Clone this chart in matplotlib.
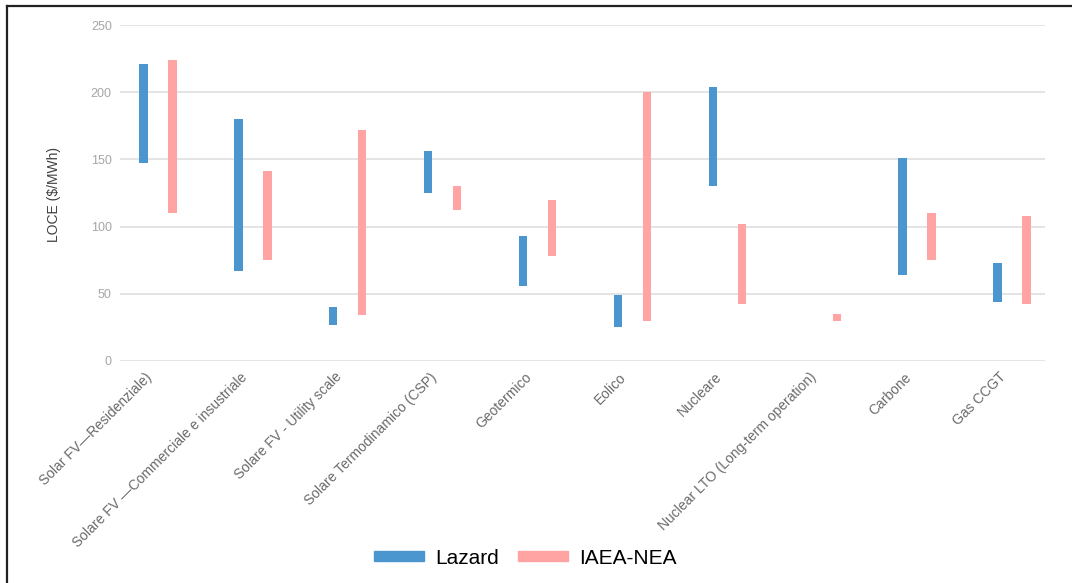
import matplotlib.pyplot as plt
from matplotlib.lines import Line2D
from matplotlib.patches import Patch
from matplotlib.transforms import ScaledTranslation
import numpy as np

plt.rcParams["font.family"] = ["Liberation Sans", "DejaVu Sans"]

categories = ["Solar FV—Residenziale)", "Solare FV —Commerciale e insustriale",
              "Solare FV - Utility scale", "Solare Termodinamico (CSP)", "Geotermico",
              "Eolico", "Nucleare", "Nuclear LTO (Long-term operation)", "Carbone", "Gas CCGT"]
# LCOE ranges ($/MWh), None = no data
lazard_low = [147, 67, 27, 125, 56, 25, 130, None, 64, 44]
lazard_high = [221, 180, 40, 156, 93, 49, 204, None, 151, 73]
iaea_low = [110, 75, 34, 112, 78, 30, 42, 30, 75, 42]
iaea_high = [224, 141, 172, 130, 120, 200, 102, 35, 110, 108]

blue = "#4C96D0"
pink = "#FFA3A3"

fig = plt.figure(figsize=(10.72, 5.83), dpi=100)
ax = fig.add_axes([0.112, 0.381, 0.863, 0.576])

x = np.arange(len(categories))
w = 0.088
off = 0.153
for i in range(len(categories)):
    if lazard_low[i] is not None:
        ax.bar(x[i] - off, lazard_high[i] - lazard_low[i], bottom=lazard_low[i],
               width=w, color=blue, zorder=3)
    ax.bar(x[i] + off, iaea_high[i] - iaea_low[i], bottom=iaea_low[i],
           width=w, color=pink, zorder=3)

ax.set_xlim(-0.40, 9.35)
ax.set_ylim(0, 250)
ax.set_yticks(range(0, 251, 50))
ax.yaxis.grid(True, color="#e2e2e2", lw=1.3, zorder=0)
for s in ax.spines.values():
    s.set_visible(False)
ax.tick_params(axis="y", length=0, pad=6, labelsize=9, labelcolor="#a6a6a6")
ax.tick_params(axis="x", length=0, pad=3)
ax.set_xticks(x)
ax.set_xticklabels(categories, rotation=45, ha="right", rotation_mode="anchor",
                   fontsize=10, color="#6a6a6a")
shift = ScaledTranslation(-0.13, -0.05, fig.dpi_scale_trans)
for lab in ax.get_xticklabels():
    lab.set_transform(lab.get_transform() + shift)

fig.text(0.050, 1 - 194 / 583, "LOCE ($/MWh)", rotation=90, ha="center", va="center",
         fontsize=10, color="#404040")

handles = [Patch(color=blue), Patch(color=pink)]
fig.legend(handles, ["Lazard", "IAEA-NEA"], loc="center", bbox_to_anchor=(0.49, 1 - 558 / 583),
           ncol=2, frameon=False, fontsize=15, handlelength=2.4, handleheight=0.35,
           columnspacing=0.9, handletextpad=0.55)

# screenshot frame (top and left edges)
fig.add_artist(Line2D([7 / 1072, 1], [1 - 6 / 583, 1 - 6 / 583], color="#222222", lw=1.6,
                      transform=fig.transFigure))
fig.add_artist(Line2D([7 / 1072, 7 / 1072], [0, 1 - 6 / 583], color="#222222", lw=1.6,
                      transform=fig.transFigure))

fig.savefig("out.png", dpi=100)
